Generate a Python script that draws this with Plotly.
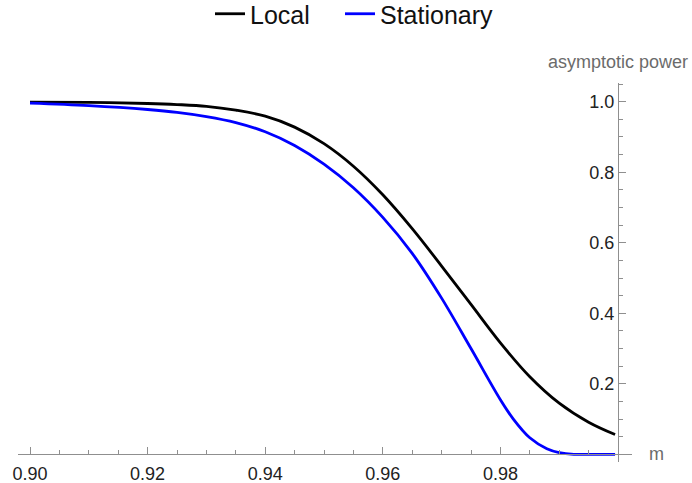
import plotly.graph_objects as go

# Asymptotic power against m for the two specifications
m_local = [0.900, 0.910, 0.920, 0.925, 0.930, 0.935, 0.940, 0.945, 0.950, 0.955,
           0.960, 0.965, 0.970, 0.975, 0.980, 0.985, 0.990, 0.995, 0.9995]
power_local = [0.999, 0.998, 0.995, 0.992, 0.987, 0.976, 0.959, 0.928, 0.881, 0.817,
               0.736, 0.640, 0.534, 0.425, 0.316, 0.220, 0.145, 0.091, 0.056]

m_stationary = [0.900, 0.910, 0.920, 0.925, 0.930, 0.935, 0.940, 0.945, 0.950, 0.955,
                0.960, 0.965, 0.970, 0.975, 0.980, 0.9822, 0.985, 0.9879, 0.990,
                0.9925, 0.995, 0.9995]
power_stationary = [0.996, 0.989, 0.978, 0.970, 0.958, 0.941, 0.915, 0.876, 0.823, 0.756,
                    0.672, 0.570, 0.443, 0.300, 0.155, 0.100, 0.047, 0.016, 0.005,
                    0.0, 0.0, 0.0]

series_names = ["Local", "Stationary"]
series_colors = ["#000000", "#0000ff"]

# Plot ranges; axes cross at (1.0, 0)
x_lo, x_hi = 0.89796, 1.00238
y_lo, y_hi = -0.0218, 1.0531
x_origin, y_origin = 1.0, 0.0

FONT = "Liberation Sans, Arial, sans-serif"
AXIS_COLOR = "#8f8f8f"
W, H = 692, 483

fig = go.Figure()
for xs, ys, name, color, lg in [(m_local, power_local, series_names[0], series_colors[0], "legend"),
                                (m_stationary, power_stationary, series_names[1], series_colors[1], "legend2")]:
    fig.add_trace(go.Scatter(
        x=xs, y=ys, name=name, mode="lines", legend=lg,
        line=dict(color=color, width=2.8, shape="spline", smoothing=1.0),
    ))

x_pos = (y_origin - y_lo) / (y_hi - y_lo)
y_pos = (x_origin - x_lo) / (x_hi - x_lo)


def legend_box(left_px):
    return dict(orientation="h", xref="container", yref="container",
                x=left_px / W, xanchor="left", y=1 - 14 / H, yanchor="middle",
                font=dict(family=FONT, size=25, color="#111111"),
                bgcolor="rgba(0,0,0,0)")


fig.update_layout(
    width=W, height=H,
    margin=dict(l=18, r=60, t=83, b=21, autoexpand=False),
    paper_bgcolor="white", plot_bgcolor="white",
    font=dict(family=FONT, color="#222222"),
    showlegend=True,
    legend=legend_box(210),
    legend2=legend_box(340),
    xaxis=dict(
        range=[x_lo, x_hi], anchor="free", position=x_pos, side="bottom",
        automargin=False,
        showline=True, linecolor=AXIS_COLOR, linewidth=1.2,
        showgrid=False, zeroline=False,
        tickmode="linear", tick0=0.9, dtick=0.02, tickformat=".2f",
        labelalias={"1.00": ""},
        ticks="inside", ticklen=7, tickwidth=1, tickcolor=AXIS_COLOR,
        ticklabelstandoff=3,
        tickfont=dict(size=18, color="#222222"),
        minor=dict(dtick=0.005, tick0=0.9, ticks="inside", ticklen=4,
                   tickwidth=1, tickcolor=AXIS_COLOR),
    ),
    yaxis=dict(
        range=[y_lo, y_hi], anchor="free", position=y_pos, side="left",
        automargin=False,
        showline=True, linecolor=AXIS_COLOR, linewidth=1.2,
        showgrid=False, zeroline=False,
        tickmode="linear", tick0=0, dtick=0.2, tickformat=".1f",
        labelalias={"0.0": ""},
        ticks="inside", ticklen=7, tickwidth=1, tickcolor=AXIS_COLOR,
        tickfont=dict(size=18, color="#222222"),
        minor=dict(dtick=0.05, tick0=0, ticks="inside", ticklen=4,
                   tickwidth=1, tickcolor=AXIS_COLOR),
    ),
    annotations=[
        dict(text="asymptotic power", x=x_origin, y=y_hi, xref="x", yref="y",
             xanchor="center", yanchor="bottom", yshift=9, showarrow=False,
             font=dict(family=FONT, size=18, color="#6b6b6b")),
        dict(text="m", x=x_hi, y=y_origin, xref="x", yref="y",
             xanchor="left", yanchor="middle", xshift=15, showarrow=False,
             font=dict(family=FONT, size=18, color="#6b6b6b")),
    ],
)

fig.write_html("out.html")
